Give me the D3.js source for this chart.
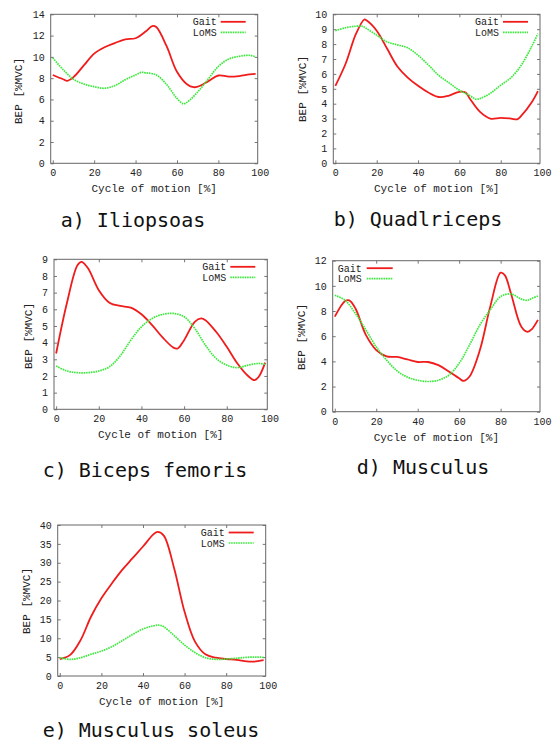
<!DOCTYPE html>
<html>
<head>
<meta charset="utf-8">
<script src="https://cdn.jsdelivr.net/npm/d3@7"></script>
<style>
body{margin:0;background:#fff;}
.tick text{font-family:"Liberation Mono",monospace;font-size:10px;fill:#222;}
.lbl{font-family:"Liberation Mono",monospace;font-size:11px;fill:#222;}
.leg{font-family:"Liberation Mono",monospace;font-size:10px;fill:#222;}
.ttl{font-family:"DejaVu Sans Mono",monospace;font-size:20px;fill:#111;}
</style>
</head>
<body>
<svg id="fig" width="555" height="741"></svg>
<script>
/* data */
var xTicks = [0, 20, 40, 60, 80, 100];
var series_names = ["Gait", "LoMS"];

var aGaitX = [0,5,7,10,15,20,25,30,35,40,45,48,50,55,60,65,68,70,75,80,85,90,95,98];
var aGait  = [8.3,7.9,7.75,8.1,9.2,10.3,10.9,11.3,11.65,11.75,12.4,12.9,12.8,11.0,8.6,7.4,7.15,7.2,7.7,8.25,8.15,8.2,8.35,8.4];
var aLomsX = [0,5,10,15,20,25,30,35,40,43,45,50,55,60,63,65,70,75,80,85,90,95,98];
var aLoms  = [9.9,8.8,7.9,7.45,7.2,7.05,7.3,7.85,8.3,8.55,8.5,8.3,7.4,6.1,5.6,5.75,6.7,7.9,9.1,9.8,10.05,10.15,10.0];

var bGaitX = [0,5,10,14,15,20,25,30,35,40,45,50,55,60,63,65,70,75,80,85,88,90,95,98];
var bGait  = [5.2,6.7,8.7,9.65,9.6,8.9,7.7,6.5,5.75,5.2,4.75,4.45,4.55,4.8,4.75,4.35,3.45,3.0,3.05,3.0,2.95,3.2,4.1,4.85];
var bLomsX = [0,5,10,13,15,20,25,30,35,40,45,50,55,60,65,68,70,75,80,85,90,95,98];
var bLoms  = [8.9,9.1,9.2,9.2,9.05,8.6,8.15,7.95,7.75,7.25,6.6,5.9,5.4,4.9,4.55,4.3,4.35,4.7,5.25,5.75,6.6,7.85,8.7];

var cGaitX = [0,5,10,12,15,20,25,30,35,40,45,50,55,57,60,65,68,70,75,80,85,90,93,95,98];
var cGait  = [3.35,6.35,8.65,8.85,8.45,7.15,6.4,6.2,6.1,5.7,5.05,4.3,3.7,3.65,4.15,5.25,5.45,5.35,4.65,3.75,2.75,2.0,1.75,1.95,2.8];
var cLomsX = [0,5,10,15,20,25,30,35,40,45,50,55,60,65,70,75,80,85,90,95,98];
var cLoms  = [2.6,2.3,2.2,2.2,2.3,2.55,3.2,4.15,4.95,5.45,5.7,5.75,5.55,4.85,3.85,3.05,2.65,2.5,2.65,2.75,2.7];

var dGaitX = [0,5,7,10,15,20,25,30,35,40,45,50,55,60,62,65,70,75,80,82,85,90,93,95,98];
var dGait  = [7.55,8.8,8.85,8.2,6.1,4.9,4.4,4.35,4.15,3.95,3.95,3.7,3.2,2.65,2.45,2.8,4.9,8.35,11.05,10.85,9.4,6.75,6.35,6.55,7.3];
var dLomsX = [0,5,10,15,20,25,30,35,40,45,50,55,60,65,70,75,80,85,90,93,95,98];
var dLoms  = [9.25,8.85,7.8,6.5,5.15,4.1,3.25,2.75,2.5,2.4,2.5,2.9,3.85,5.3,6.9,8.1,9.15,9.35,8.95,8.85,9.0,9.2];

var eGaitX = [0,5,10,15,20,25,30,35,40,45,47,50,55,60,65,70,75,80,85,90,93,98];
var eGait  = [4.5,5.6,9.5,15.7,20.6,24.5,28.1,31.2,34.3,37.5,38.2,37.2,28.5,17.0,9.1,5.75,4.85,4.5,4.25,3.85,3.8,4.2];
var eLomsX = [0,5,10,15,20,25,30,35,40,45,48,50,55,60,65,70,75,80,85,90,95,98];
var eLoms  = [4.85,4.4,4.85,5.75,6.6,7.75,9.35,11.0,12.45,13.3,13.45,13.05,10.7,8.2,6.2,4.85,4.4,4.5,4.7,4.95,5.0,4.95];

var aYTicks = [0,2,4,6,8,10,12,14];
var bYTicks = [0,1,2,3,4,5,6,7,8,9,10];
var cYTicks = [0,1,2,3,4,5,6,7,8,9];
var dYTicks = [0,2,4,6,8,10,12];
var eYTicks = [0,5,10,15,20,25,30,35,40];

var titles = ["a) Iliopsoas", "b) Quadlriceps", "c) Biceps femoris", "d) Musculus", "e) Musculus soleus"];

/* layout of the five panels */
var panels = [
	{l:50.7, r:257.7, t:14.3, b:163.3, ymax:14, yt:aYTicks, g:[aGaitX,aGait], m:[aLomsX,aLoms], key:"right", tx:133, ty:227, ylx:18, yly:91},
	{l:333.3, r:540, t:14.3, b:163.3, ymax:10, yt:bYTicks, g:[bGaitX,bGait], m:[bLomsX,bLoms], key:"right", tx:418, ty:226, ylx:302, yly:89},
	{l:54, r:267.3, t:259.3, b:409.3, ymax:9, yt:cYTicks, g:[cGaitX,cGait], m:[cLomsX,cLoms], key:"right", tx:145, ty:477, ylx:28, yly:336},
	{l:332.7, r:540, t:260.7, b:411.7, ymax:12, yt:dYTicks, g:[dGaitX,dGait], m:[dLomsX,dLoms], key:"left", tx:423, ty:474, ylx:301, yly:337},
	{l:57.7, r:265.7, t:525, b:676, ymax:40, yt:eYTicks, g:[eGaitX,eGait], m:[eLomsX,eLoms], key:"right", tx:151, ty:737, ylx:26, yly:601}
];

var red = "#f01c1c", green = "#3ee83e";
var svg = d3.select("#fig");

function draw_panel(p, idx){
	var x = d3.scaleLinear().domain([-1, 99]).range([p.l, p.r]);
	var y = d3.scaleLinear().domain([0, p.ymax]).range([p.b, p.t]);
	var g = svg.append("g");

	// ticks, gnuplot style: inward, mirrored
	var ax = g.append("g").attr("transform", "translate(0," + p.b + ")")
		.call(d3.axisBottom(x).tickValues(xTicks).tickSizeInner(-3).tickSizeOuter(0).tickPadding(6));
	ax.select(".domain").remove();
	ax.selectAll(".tick").filter(function(d){ return d > 99; }).select("line").remove();
	ax.selectAll(".tick line").attr("stroke", "#777");

	var axt = g.append("g").attr("transform", "translate(0," + p.t + ")")
		.call(d3.axisTop(x).tickValues(xTicks.filter(function(d){ return d > 0 && d < 99; })).tickSizeInner(-3).tickSizeOuter(0));
	axt.select(".domain").remove();
	axt.selectAll("text").remove();
	axt.selectAll(".tick line").attr("stroke", "#777");

	var ay = g.append("g").attr("transform", "translate(" + p.l + ",0)")
		.call(d3.axisLeft(y).tickValues(p.yt).tickSizeInner(-3).tickSizeOuter(0).tickPadding(6));
	ay.select(".domain").remove();
	ay.selectAll(".tick line").attr("stroke", "#777");

	var ayr = g.append("g").attr("transform", "translate(" + p.r + ",0)")
		.call(d3.axisRight(y).tickValues(p.yt).tickSizeInner(-3).tickSizeOuter(0));
	ayr.select(".domain").remove();
	ayr.selectAll("text").remove();
	ayr.selectAll(".tick line").attr("stroke", "#777");

	g.append("rect")
		.attr("x", p.l).attr("y", p.t)
		.attr("width", p.r - p.l).attr("height", p.b - p.t)
		.attr("fill", "none").attr("stroke", "#666").attr("stroke-width", 1);

	var line = d3.line()
		.x(function(d){ return x(d[0]); })
		.y(function(d){ return y(d[1]); })
		.curve(d3.curveCatmullRom.alpha(0.5));

	var mData = d3.zip(p.m[0], p.m[1]);
	var gData = d3.zip(p.g[0], p.g[1]);

	g.append("path").datum(gData).attr("d", line)
		.attr("fill", "none").attr("stroke", red).attr("stroke-width", 1.8);
	g.append("path").datum(mData).attr("d", line)
		.attr("fill", "none").attr("stroke", green).attr("stroke-width", 1.7)
		.attr("stroke-dasharray", "1.6,0.8");

	// key
	var kx, lx1, lx2;
	if (p.key == "right"){
		kx = p.r - 65; lx1 = p.r - 37; lx2 = p.r - 12;
	} else {
		kx = p.l + 5; lx1 = p.l + 34; lx2 = p.l + 60;
	}
	var cols = [red, green];
	for (var i = 0; i < 2; i++){
		var ky = p.t + 7.5 + i*10.5;
		g.append("text").attr("class", "leg").attr("x", kx).attr("y", ky + 3.5).text(series_names[i]);
		var kl = g.append("line").attr("x1", lx1).attr("x2", lx2).attr("y1", ky).attr("y2", ky)
			.attr("stroke", cols[i]).attr("stroke-width", i == 0 ? 1.8 : 1.7);
		if (i == 1) kl.attr("stroke-dasharray", "1.6,0.8");
	}

	// axis labels
	g.append("text").attr("class", "lbl")
		.attr("x", (p.l + p.r)/2).attr("y", p.b + 29)
		.attr("text-anchor", "middle").text("Cycle of motion [%]");
	g.append("text").attr("class", "lbl")
		.attr("transform", "translate(" + (p.ylx + 4) + "," + p.yly + ") rotate(-90)")
		.attr("text-anchor", "middle").text("BEP [%MVC]");

	// caption
	svg.append("text").attr("class", "ttl")
		.attr("x", p.tx).attr("y", p.ty)
		.attr("text-anchor", "middle").text(titles[idx]);
}

for (var i = 0; i < panels.length; i++)
	draw_panel(panels[i], i);
</script>
</body>
</html>
